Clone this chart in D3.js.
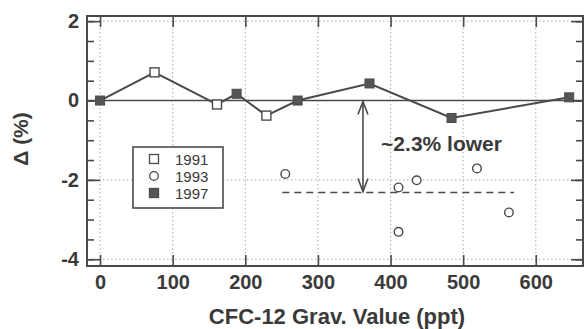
<!DOCTYPE html>
<html>
<head>
<meta charset="utf-8">
<script src="https://cdn.jsdelivr.net/npm/d3@7"></script>
<style>
  body { margin: 0; background: #fff; }
  text { font-family: "Liberation Sans", Arial, sans-serif; fill: #3a3a3a; }
</style>
</head>
<body>
<script>
// readings
var x1991 = [75, 161, 229];
var y1991 = [0.71, -0.1, -0.38];
var x1993 = [255, 411, 411, 436, 519, 563];
var y1993 = [-1.85, -2.19, -3.31, -2.01, -1.71, -2.82];
var x1997 = [0, 188, 272, 371, 484, 646];
var y1997 = [0, 0.17, 0, 0.43, -0.44, 0.08];
var xTicks = [0, 100, 200, 300, 400, 500, 600];
var yTicks = [2, 0, -2, -4];
var meanOffset = -2.32;
var legendYears = ["1991", "1993", "1997"];

var width = 584, height = 329;
var margin = {top: 16, right: 1, bottom: 63, left: 87};
var ink = "#4a4a4a";

var x = d3.scaleLinear().domain([-18, 665]).range([margin.left, width - margin.right]);
var y = d3.scaleLinear().domain([-4.17, 2.13]).range([height - margin.bottom, margin.top]);

var svg = d3.select("body").append("svg")
    .attr("width", width)
    .attr("height", height);

// dotted grid
svg.append("g").selectAll("line")
    .data(xTicks)
  .enter().append("line")
    .attr("x1", function(d) { return x(d); })
    .attr("x2", function(d) { return x(d); })
    .attr("y1", y.range()[1])
    .attr("y2", y.range()[0])
    .style("stroke", "#aaa")
    .style("stroke-dasharray", "1.5,2.5");

svg.append("g").selectAll("line")
    .data(yTicks)
  .enter().append("line")
    .attr("x1", x.range()[0])
    .attr("x2", x.range()[1])
    .attr("y1", function(d) { return y(d); })
    .attr("y2", function(d) { return y(d); })
    .style("stroke", "#aaa")
    .style("stroke-dasharray", "1.5,2.5");

// zero line
svg.append("line")
    .attr("x1", x.range()[0]).attr("x2", x.range()[1])
    .attr("y1", y(0)).attr("y2", y(0))
    .style("stroke", ink).style("stroke-width", 1.6);

// axes with inward ticks
var minorY = d3.range(-4, 2.01, 0.5);
var plain = function(d) { return String(d); };

function axisBits(g) {
  g.selectAll(".domain").remove();
  g.selectAll(".tick line").style("stroke", ink).style("stroke-width", 1.6);
}

svg.append("g")
    .attr("transform", "translate(0," + y.range()[0] + ")")
    .call(d3.axisBottom(x).tickValues(xTicks).tickSize(-11).tickPadding(9).tickFormat(plain))
    .call(axisBits)
    .selectAll("text").style("font-size", "20px").style("font-weight", "bold").style("fill", "#3a3a3a");

svg.append("g")
    .attr("transform", "translate(0," + y.range()[1] + ")")
    .call(d3.axisTop(x).tickValues(xTicks).tickSize(-11).tickFormat(""))
    .call(axisBits);

svg.append("g")
    .attr("transform", "translate(" + x.range()[0] + ",0)")
    .call(d3.axisLeft(y).tickValues(minorY).tickSize(-7).tickFormat(""))
    .call(axisBits);

svg.append("g")
    .attr("transform", "translate(" + x.range()[0] + ",0)")
    .call(d3.axisLeft(y).tickValues(yTicks).tickSize(-13).tickPadding(8).tickFormat(plain))
    .call(axisBits)
    .selectAll("text").style("font-size", "20px").style("font-weight", "bold").style("fill", "#3a3a3a");

svg.append("g")
    .attr("transform", "translate(" + x.range()[1] + ",0)")
    .call(d3.axisRight(y).tickValues(minorY).tickSize(-7).tickFormat(""))
    .call(axisBits);

svg.append("g")
    .attr("transform", "translate(" + x.range()[1] + ",0)")
    .call(d3.axisRight(y).tickValues(yTicks).tickSize(-12).tickFormat(""))
    .call(axisBits);

// frame
svg.append("rect")
    .attr("x", x.range()[0]).attr("y", y.range()[1])
    .attr("width", x.range()[1] - x.range()[0])
    .attr("height", y.range()[0] - y.range()[1])
    .style("fill", "none").style("stroke", ink).style("stroke-width", 2);

// joined line through 1991 + 1997 points
var joined = x1991.map(function(d, i) { return [d, y1991[i]]; })
  .concat(x1997.map(function(d, i) { return [d, y1997[i]]; }))
  .sort(function(a, b) { return a[0] - b[0]; });

svg.append("path")
    .datum(joined)
    .attr("d", d3.line().x(function(d) { return x(d[0]); }).y(function(d) { return y(d[1]); }))
    .style("fill", "none").style("stroke", ink).style("stroke-width", 2);

// mean offset dashed line
svg.append("line")
    .attr("x1", x(251)).attr("x2", x(570))
    .attr("y1", y(meanOffset)).attr("y2", y(meanOffset))
    .style("stroke", ink).style("stroke-width", 1.5)
    .style("stroke-dasharray", "7,5");

// arrow
var ax = x(362);
svg.append("line")
    .attr("x1", ax).attr("x2", ax)
    .attr("y1", y(0) + 1).attr("y2", y(meanOffset) - 1)
    .style("stroke", ink).style("stroke-width", 1.6);
svg.append("path")
    .attr("d", "M" + (ax - 5) + "," + (y(0) + 14) + "L" + ax + "," + (y(0) + 1) + "L" + (ax + 5) + "," + (y(0) + 14))
    .style("fill", "none").style("stroke", ink).style("stroke-width", 1.6);
svg.append("path")
    .attr("d", "M" + (ax - 5) + "," + (y(meanOffset) - 14) + "L" + ax + "," + (y(meanOffset) - 1) + "L" + (ax + 5) + "," + (y(meanOffset) - 14))
    .style("fill", "none").style("stroke", ink).style("stroke-width", 1.6);

svg.append("text")
    .attr("x", x(387)).attr("y", y(-1.28))
    .style("font-size", "21px").style("font-weight", "bold")
    .text("~2.3% lower");

// markers
var sq = 9;
svg.append("g").selectAll("rect")
    .data(x1991)
  .enter().append("rect")
    .attr("x", function(d) { return x(d) - sq / 2; })
    .attr("y", function(d, i) { return y(y1991[i]) - sq / 2; })
    .attr("width", sq).attr("height", sq)
    .style("fill", "#fff").style("stroke", ink).style("stroke-width", 1.4);

svg.append("g").selectAll("circle")
    .data(x1993)
  .enter().append("circle")
    .attr("cx", function(d) { return x(d); })
    .attr("cy", function(d, i) { return y(y1993[i]); })
    .attr("r", 4.3)
    .style("fill", "#fff").style("stroke", ink).style("stroke-width", 1.4);

svg.append("g").selectAll("rect")
    .data(x1997)
  .enter().append("rect")
    .attr("x", function(d) { return x(d) - sq / 2; })
    .attr("y", function(d, i) { return y(y1997[i]) - sq / 2; })
    .attr("width", sq).attr("height", sq)
    .style("fill", "#555").style("stroke", ink).style("stroke-width", 1);

// legend
var legend = svg.append("g").attr("transform", "translate(133,147)");
legend.append("rect")
    .attr("width", 90).attr("height", 61)
    .style("fill", "#fff").style("stroke", ink).style("stroke-width", 1.6);

var items = legend.selectAll(".legend")
    .data(legendYears)
  .enter().append("g")
    .attr("class", "legend")
    .attr("transform", function(d, i) { return "translate(21," + (12 + i * 17) + ")"; });

items.each(function(d, i) {
  var g = d3.select(this);
  if (i == 1) {
    g.append("circle").attr("r", 4.3)
      .style("fill", "#fff").style("stroke", ink).style("stroke-width", 1.3);
  } else {
    g.append("rect").attr("x", -4.5).attr("y", -4.5).attr("width", 9).attr("height", 9)
      .style("fill", i == 2 ? "#555" : "#fff").style("stroke", ink).style("stroke-width", 1.3);
  }
});

items.append("text")
    .attr("x", 21).attr("y", 5.5)
    .style("font-size", "15px")
    .text(function(d) { return d; });

// axis titles
svg.append("text")
    .attr("x", (x.range()[0] + x.range()[1]) / 2 + 2)
    .attr("y", 324)
    .attr("text-anchor", "middle")
    .style("font-size", "22px").style("font-weight", "bold")
    .text("CFC-12 Grav. Value (ppt)");

svg.append("text")
    .attr("transform", "translate(28,139) rotate(-90)")
    .attr("text-anchor", "middle")
    .style("font-size", "21px").style("font-weight", "bold")
    .text("Δ (%)");
</script>
</body>
</html>
